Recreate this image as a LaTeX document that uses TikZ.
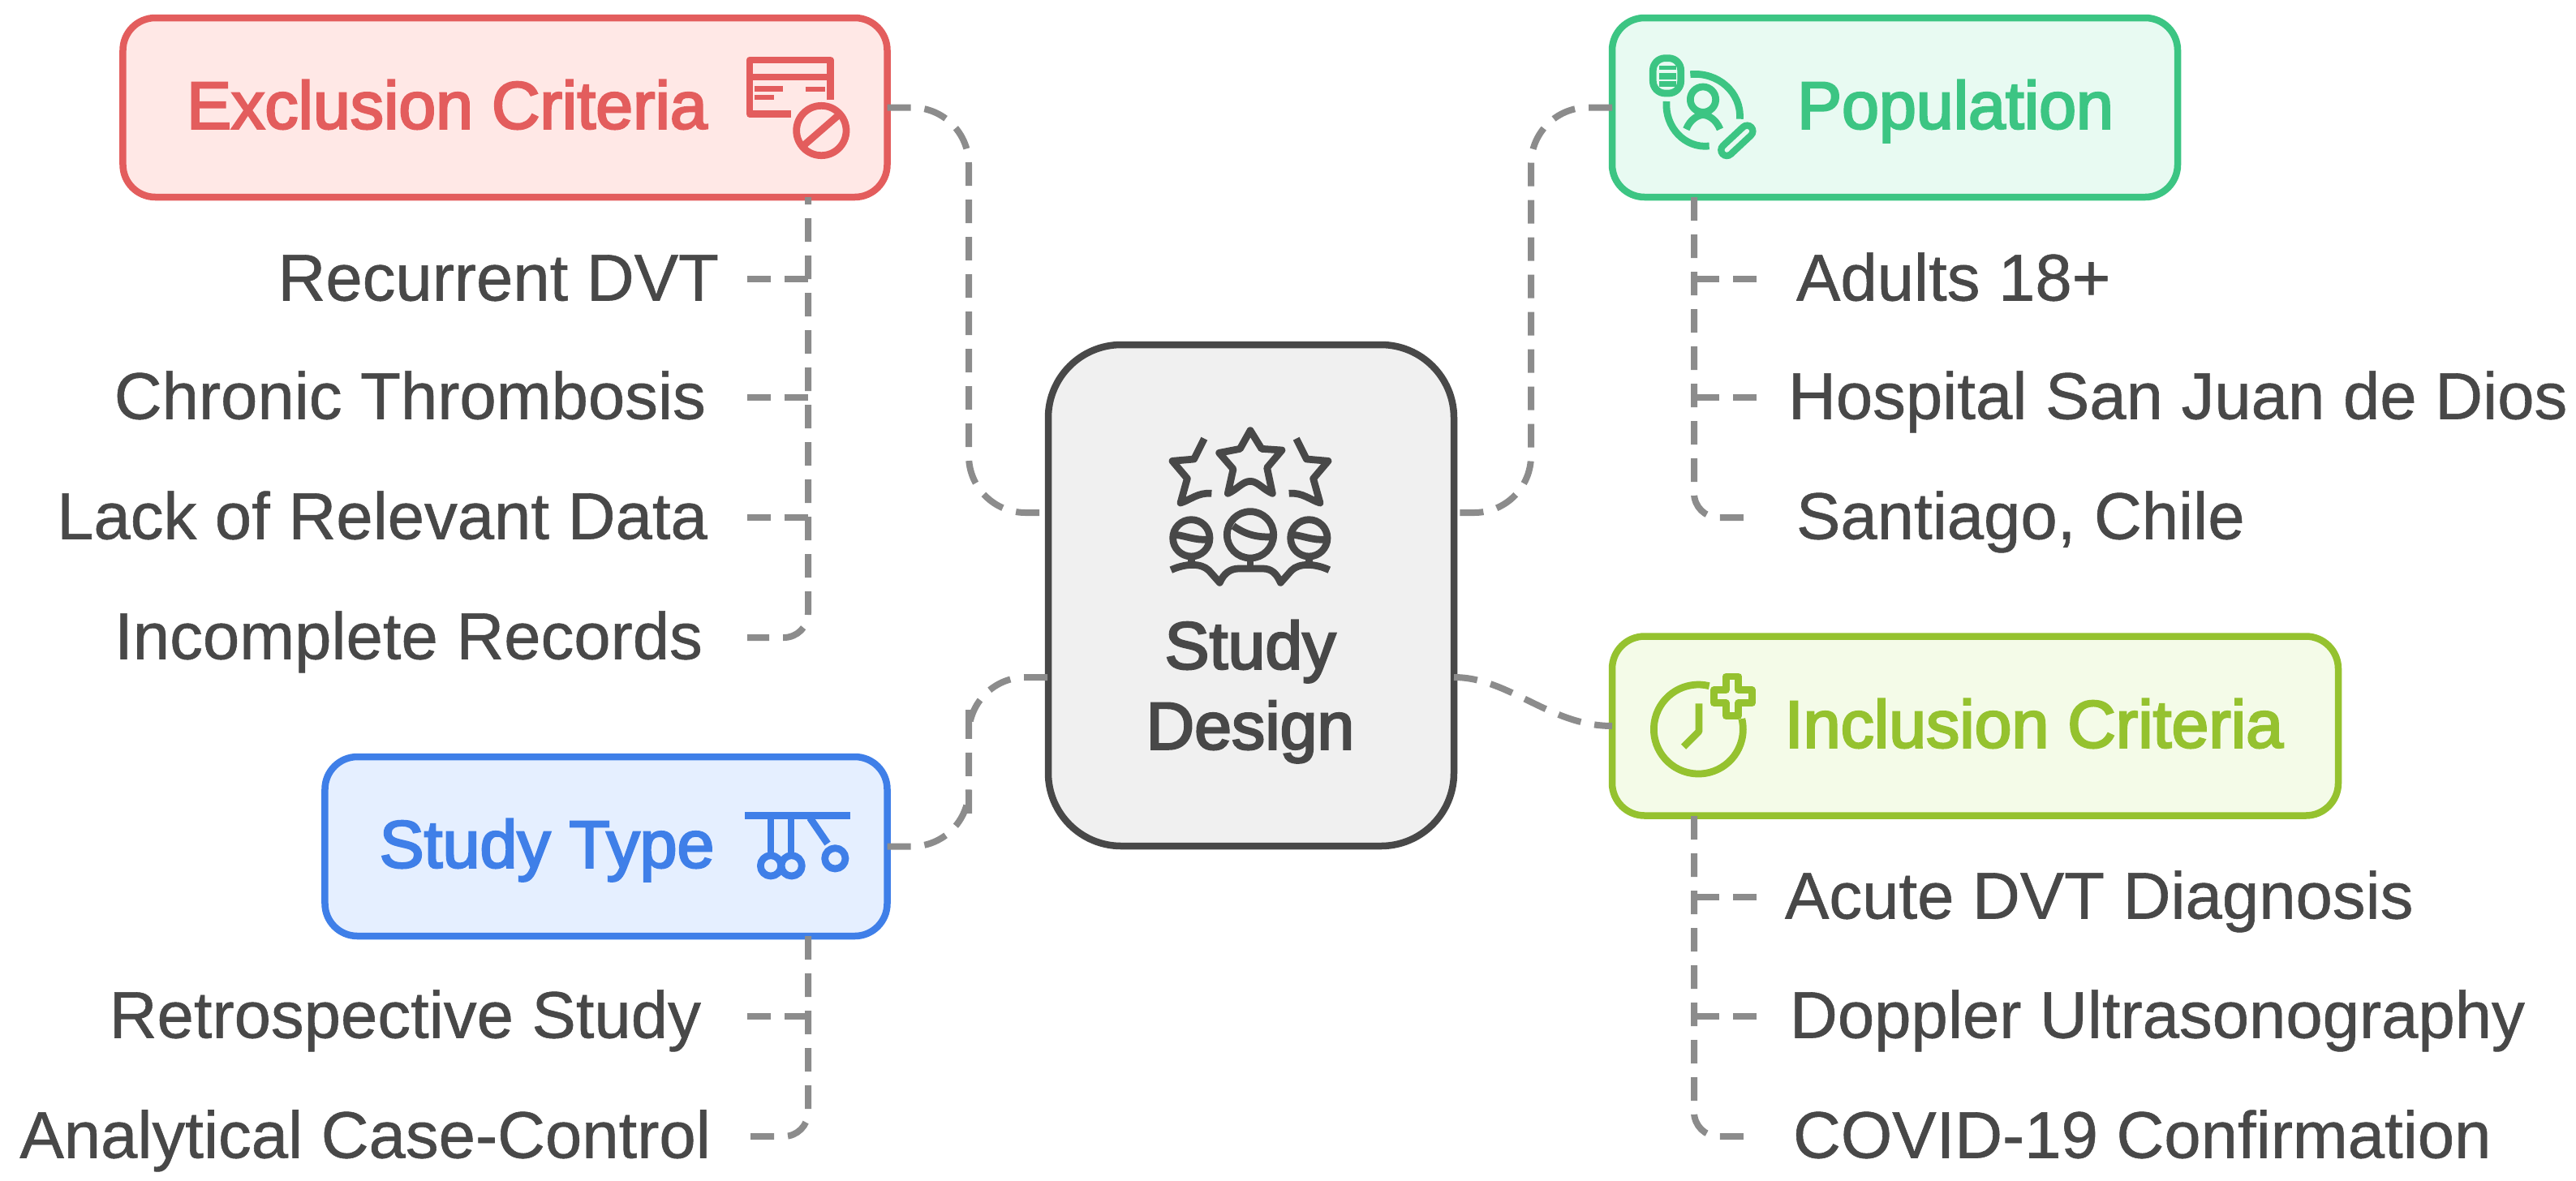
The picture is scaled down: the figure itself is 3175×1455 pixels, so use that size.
\documentclass[tikz,border=0pt]{standalone}
\usepackage{fontspec}
\setmainfont{Liberation Sans}
\newfontfamily\headfont[FakeBold=3]{Liberation Sans}
\newfontfamily\subfont[FakeBold=0.7]{Liberation Sans}
\usetikzlibrary{positioning}

\definecolor{redline}{HTML}{E35D5D}
\definecolor{redfill}{HTML}{FFE8E6}
\definecolor{greenline}{HTML}{3CC583}
\definecolor{greenfill}{HTML}{E8FAF2}
\definecolor{limeline}{HTML}{95C22F}
\definecolor{limefill}{HTML}{F4FBE8}
\definecolor{blueline}{HTML}{3F7FE8}
\definecolor{bluefill}{HTML}{E5EFFF}
\definecolor{darkline}{HTML}{484848}
\definecolor{midfill}{HTML}{F0F0F0}
\definecolor{linkgrey}{HTML}{8C8C8C}

\tikzset{
  box/.style={draw, rectangle, rounded corners=8pt, line width=1.7pt, inner sep=0pt, outer sep=0pt},
  head/.style={font=\headfont\fontsize{16.5}{18}\selectfont, inner sep=0pt, text height=14pt, text depth=3.4pt},
  sub/.style={font=\subfont\fontsize{16.3}{18}\selectfont, text=darkline, inner sep=0pt, text height=14pt, text depth=3.4pt},
  link/.style={draw=linkgrey, line width=1.6pt, dash pattern=on 5.8pt off 3.4pt, rounded corners=14pt},
  stub/.style={draw=linkgrey, line width=1.6pt, dash pattern=on 5.8pt off 3.4pt},
  rail/.style={draw=linkgrey, line width=1.6pt, dash pattern=on 5.8pt off 3.4pt, rounded corners=6pt},
  icon/.style={line width=1.75pt, line join=round, line cap=butt, x=0.06667pt, y=-0.06667pt}
}

\begin{document}
\begin{tikzpicture}[x=0.2pt, y=-0.2pt]
\def \railL {996}
\def \railR {2088}

\useasboundingbox (0,0) rectangle (3175,1455);

\node[box, draw=darkline, fill=midfill, rounded corners=18pt, minimum width=100pt, minimum height=123.6pt] (design) at (1542,734) {};
\node[box, draw=redline, fill=redfill, minimum width=188.4pt, minimum height=44.2pt] (excl) at (622.5,132.5) {};
\node[box, draw=greenline, fill=greenfill, minimum width=139.4pt, minimum height=44.2pt] (popu) at (2335.5,132.5) {};
\node[box, draw=limeline, fill=limefill, minimum width=179pt, minimum height=44.2pt] (incl) at (2434.5,895) {};
\node[box, draw=blueline, fill=bluefill, minimum width=138.6pt, minimum height=44.2pt] (type) at (747,1043.5) {};

\node[head, text=redline] (exclT) at (551,132) {Exclusion Criteria};
\node[head, text=greenline] (popuT) at (2410,132) {Population};
\node[head, text=limeline] (inclT) at (2507,895) {Inclusion Criteria};
\node[head, text=blueline] (typeT) at (674,1043) {Study Type};
\node[head, text=darkline] (designA) at (1541,798) {Study};
\node[head, text=darkline] (designB) at (1541,897) {Design};

\node[sub, anchor=east] (ex1) at (887,344) {Recurrent DVT};
\node[sub, anchor=east] (ex2) at (871,490) {Chronic Thrombosis};
\node[sub, anchor=east] (ex3) at (873,638) {Lack of Relevant Data};
\node[sub, anchor=east] (ex4) at (867,786) {Incomplete Records};
\node[sub, anchor=east] (ty1) at (865,1253) {Retrospective Study};
\node[sub, anchor=east] (ty2) at (877,1401) {Analytical Case-Control};
\node[sub, anchor=west] (po1) at (2213,344) {Adults 18+};
\node[sub, anchor=west] (po2) at (2203,490) {Hospital San Juan de Dios};
\node[sub, anchor=west] (po3) at (2213,638) {Santiago, Chile};
\node[sub, anchor=west] (in1) at (2199,1106) {Acute DVT Diagnosis};
\node[sub, anchor=west] (in2) at (2205,1253) {Doppler Ultrasonography};
\node[sub, anchor=west] (in3) at (2209,1401) {COVID-19 Confirmation};

\coordinate (dw1) at (1292,632);
\coordinate (dw2) at (1292,835);
\coordinate (de1) at (1792,632);
\coordinate (de2) at (1792,835);
\coordinate (busA) at (1194,400);
\coordinate (busB) at (1194,940);
\coordinate (busC) at (1887,400);
\coordinate (exroot) at (\railL,243);
\coordinate (tyroot) at (\railL,1154);
\coordinate (poroot) at (\railR,243);
\coordinate (inroot) at (\railR,1006);
\coordinate (exs1) at (921,344);
\coordinate (exs2) at (921,490);
\coordinate (exs3) at (921,638);
\coordinate (exs4) at (921,786);
\coordinate (tys1) at (921,1253);
\coordinate (tys2) at (921,1401);
\coordinate (pos1) at (2165,344);
\coordinate (pos2) at (2165,490);
\coordinate (pos3) at (2165,638);
\coordinate (ins1) at (2165,1106);
\coordinate (ins2) at (2165,1253);
\coordinate (ins3) at (2165,1401);

\path[link] (excl.east) -| (busA) |- (dw1);
\path[link] (type.east) -| (busB) |- (dw2);
\path[link] (popu.west) -| (busC) |- (de1);
\path[link] (de2) .. controls (1860,835) and (1910,895) .. (incl.west);

\path[rail, dash phase=4pt] (exroot) |- (exs4);
\path[stub] (exs1) -- (exs1 -| exroot);
\path[stub] (exs2) -- (exs2 -| exroot);
\path[stub] (exs3) -- (exs3 -| exroot);
\path[rail] (tyroot) |- (tys2);
\path[stub] (tys1) -- (tys1 -| tyroot);
\path[rail] (poroot) |- (pos3);
\path[stub] (pos1) -- (pos1 -| poroot);
\path[stub] (pos2) -- (pos2 -| poroot);
\path[rail] (inroot) |- (ins3);
\path[stub] (ins1) -- (ins1 -| inroot);
\path[stub] (ins2) -- (ins2 -| inroot);

\begin{scope}[shift={(1350,500)}, icon, draw=darkline]
\draw (573,92) -- (615,160) -- (690,165) -- (635,230) -- (655,325) .. controls (620,310) and (600,280) .. (573,280) .. controls (545,280) and (525,310) .. (490,325) -- (510,235) -- (458,175) -- (535,160) -- cycle;
\draw (403,122) -- (365,198) -- (285,205) -- (340,270) -- (315,360) .. controls (350,350) and (380,320) .. (430,325);
\draw (743,122) -- (781,198) -- (861,205) -- (806,270) -- (831,360) .. controls (796,350) and (766,320) .. (716,325);
\draw (355,490) circle [radius=68];
\draw (573,478) circle [radius=86];
\draw (790,490) circle [radius=68];
\draw (295,478) .. controls (330,480) and (370,500) .. (418,495);
\draw (510,445) .. controls (545,470) and (590,490) .. (655,485);
\draw (730,478) .. controls (765,480) and (805,500) .. (853,495);
\draw (355,555) -- (355,590);
\draw (573,565) -- (573,595);
\draw (790,555) -- (790,590);
\draw (280,608) .. controls (330,585) and (390,580) .. (420,610) -- (460,655) .. controls (475,620) and (500,603) .. (530,603) -- (620,603) .. controls (650,603) and (670,620) .. (685,655) -- (725,610) .. controls (755,580) and (815,585) .. (865,608);
\end{scope}

\begin{scope}[shift={(850,0)}, icon, draw=redline]
\draw (520,370) -- (520,222) -- (222,222) -- (222,422) -- (375,422);
\draw (222,285) -- (520,285);
\draw[line width=1.3pt] (240,328) -- (345,328);
\draw[line width=1.3pt] (240,360) -- (312,360);
\draw[line width=1.3pt] (428,330) -- (500,330);
\draw (487,483) circle [radius=92];
\draw (425,535) -- (548,428);
\end{scope}

\begin{scope}[shift={(1950,0)}, icon, draw=greenline]
\draw[rounded corners=3pt] (262,215) rectangle (365,345);
\draw[line width=1pt] (285,250) -- (348,250);
\draw[line width=1.5pt] (285,282) -- (348,282);
\draw[line width=1.5pt] (285,310) -- (348,310);
\draw (400,275) .. controls (500,265) and (590,340) .. (583,440);
\draw (312,375) .. controls (305,470) and (380,550) .. (470,540);
\draw (447,368) circle [radius=47];
\draw (385,478) .. controls (400,440) and (430,425) .. (447,425) .. controls (465,425) and (495,440) .. (510,478);
\draw[line width=1.7pt, line cap=round, double=greenfill, double distance=1.1pt] (535,555) -- (610,485);
\end{scope}

\begin{scope}[shift={(1980,780)}, icon, draw=limeline]
\draw (380,197) arc [start angle=-76, end angle=-373.6, radius=165];
\draw (342,262) -- (342,365) -- (285,422);
\draw (442,162) -- (488,162) -- (488,212) -- (538,212) -- (538,260) -- (488,260) -- (488,308) -- (442,308) -- (442,260) -- (397,260) -- (397,212) -- (442,212) -- cycle;
\end{scope}

\begin{scope}[shift={(880,960)}, icon, draw=blueline]
\draw (115,137) -- (505,137);
\draw (210,137) -- (210,280);
\draw (285,137) -- (285,280);
\draw (355,145) -- (420,240);
\draw (210,322) circle [radius=38];
\draw (287,322) circle [radius=38];
\draw (448,295) circle [radius=38];
\end{scope}

\end{tikzpicture}
\end{document}
